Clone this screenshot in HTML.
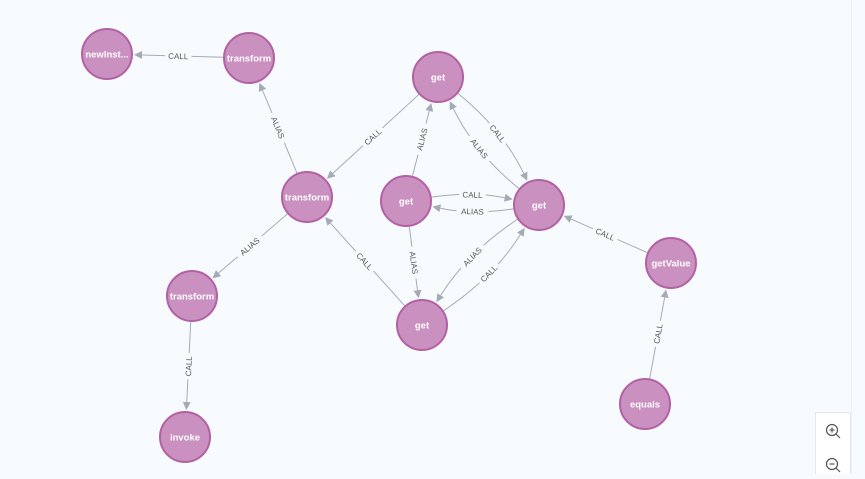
<!DOCTYPE html>
<html><head><meta charset="utf-8"><style>
html,body{margin:0;padding:0;width:865px;height:473px;overflow:hidden;background:#f8fbfe;font-family:"Liberation Sans",sans-serif}
#ctl{position:absolute;left:815px;top:412px;width:34px;height:61px;background:#fff;border:1px solid #e3e8ee;border-bottom:none}
#edge{position:absolute;left:851px;top:0;width:1px;height:473px;background:#eef1f5}
</style></head><body>
<div id="edge"></div>
<svg id="s" width="865" height="473" style="position:absolute;left:0;top:0"></svg>
<div id="ctl">
<svg width="34" height="61"><g fill="none" stroke="#555" stroke-width="1.2">
<circle cx="16" cy="17" r="5.5"/><line x1="20" y1="21" x2="24" y2="25"/><line x1="13.5" y1="17" x2="18.5" y2="17"/><line x1="16" y1="14.5" x2="16" y2="19.5"/>
<circle cx="16" cy="51" r="5.5"/><line x1="20" y1="55" x2="24" y2="59"/><line x1="13.5" y1="51" x2="18.5" y2="51"/></g></svg>
</div>
<script>
const N={nw:[107,54,'newInst...'],tt:[249,58,'transform'],gt:[438,77,'get'],tm:[307,197,'transform'],gc:[406,201,'get'],gr:[539,205,'get'],tl:[192,296,'transform'],gb:[422,325,'get'],gv:[671,263,'getValue'],eq:[645,404,'equals'],iv:[185,437,'invoke']};
const E=[['tt','nw','CALL',0],['tm','tt','ALIAS',0],['gt','tm','CALL',0],['gc','gt','ALIAS',0],['gt','gr','CALL',-18],['gr','gt','ALIAS',-18],['gc','gr','CALL',-12],['gr','gc','ALIAS',-12],['gc','gb','ALIAS',0],['gr','gb','ALIAS',18],['gb','gr','CALL',18],['gb','tm','CALL',0],['tm','tl','ALIAS',0],['tl','iv','CALL',0],['gv','gr','CALL',0],['eq','gv','CALL',0]];
const R=25;let h='';
for(const [a,b,l,c] of E){const A=N[a],B=N[b];const dx=B[0]-A[0],dy=B[1]-A[1],L=Math.hypot(dx,dy);const nx=-dy/L,ny=dx/L;
const cx=(A[0]+B[0])/2+nx*c,cy=(A[1]+B[1])/2+ny*c;
let u=[cx-A[0],cy-A[1]],ul=Math.hypot(...u);const sx=A[0]+u[0]/ul*(R+1),sy=A[1]+u[1]/ul*(R+1);
let v=[B[0]-cx,B[1]-cy],vl=Math.hypot(...v);v=[v[0]/vl,v[1]/vl];
const tx=B[0]-v[0]*(R+2),ty=B[1]-v[1]*(R+2);const bx=tx-v[0]*8,by=ty-v[1]*8;
h+=`<path d="M${sx},${sy} Q${cx},${cy} ${bx},${by}" fill="none" stroke="#a5abb6" stroke-width="1"/>`;
h+=`<polygon points="${tx},${ty} ${bx-v[1]*4},${by+v[0]*4} ${bx+v[1]*4},${by-v[0]*4}" fill="#a5abb6"/>`;
const mx=(sx+2*cx+tx)/4,my=(sy+2*cy+ty)/4;let ang=Math.atan2(dy,dx)*180/Math.PI;if(ang>90)ang-=180;if(ang<-90)ang+=180;
const w=l.length*5.6+4;
h+=`<g transform="translate(${mx},${my}) rotate(${ang})"><rect x="${-w/2}" y="-5" width="${w}" height="10" fill="#f8fbfe"/><text x="0" y="3" text-anchor="middle" font-size="8" fill="#555">${l}</text></g>`;}
for(const k in N){const [x,y,t]=N[k];h+=`<circle cx="${x}" cy="${y}" r="${R}" fill="#c990c0" stroke="#b261a5" stroke-width="2"/><text x="${x}" y="${y+3.5}" text-anchor="middle" font-size="9.5" font-weight="bold" fill="#fff">${t}</text>`;}
document.getElementById('s').innerHTML=h;
</script>
</body></html>
